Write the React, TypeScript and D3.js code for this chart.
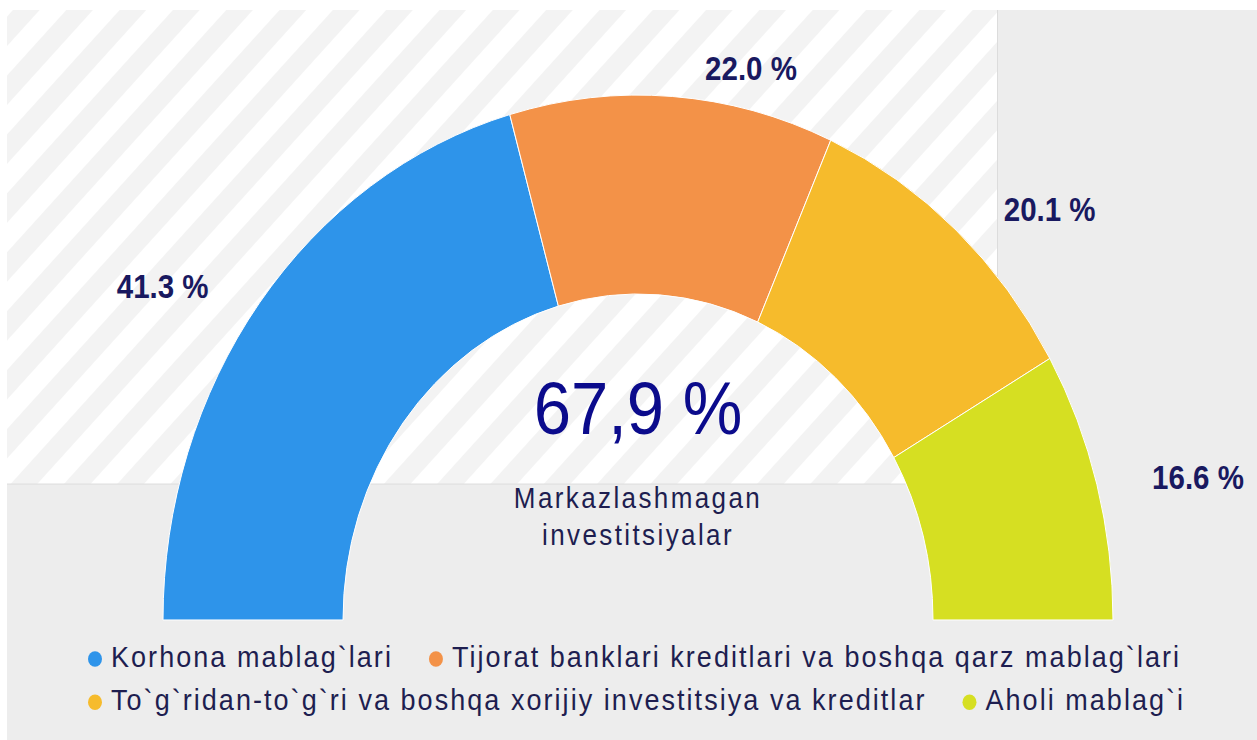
import React, { useEffect, useRef } from 'react';
import * as d3 from 'd3';

const categories = [
  "Korhona mablag`lari",
  "Tijorat banklari kreditlari va boshqa qarz mablag`lari",
  "To`g`ridan-to`g`ri va boshqa xorijiy investitsiya va kreditlar",
  "Aholi mablag`i",
];
const values = [41.3, 22.0, 20.1, 16.6];
const colors = ["#2e94ea", "#f39248", "#f6bb2c", "#d6df22"];
const totalLabel = "67,9 %";
const subtitleLines = ["Markazlashmagan", "investitsiyalar"];
const legendRows = [[0, 1], [2, 3]];

const W = 1257;
const H = 740;
const TOP = 10;
const SY = 1.105;
const FONT = "'Liberation Sans', Arial, sans-serif";

export default function App() {
  const ref = useRef<SVGSVGElement | null>(null);

  useEffect(() => {
    const svg = d3.select(ref.current);
    svg.selectAll('*').remove();

    const defs = svg.append('defs');
    const pat = defs.append('pattern')
      .attr('id', 'hatch')
      .attr('patternUnits', 'userSpaceOnUse')
      .attr('width', 37.7)
      .attr('height', 37.7)
      .attr('patternTransform', 'translate(13,0) rotate(45)');
    pat.append('rect').attr('width', 37.7).attr('height', 37.7).attr('fill', '#ffffff');
    pat.append('rect').attr('width', 18.85).attr('height', 37.7).attr('fill', '#f3f3f3');

    svg.append('rect').attr('width', W).attr('height', H).attr('fill', '#ffffff');

    const g = svg.append('g').attr('transform', `translate(0,${TOP}) scale(1,${SY})`);
    const innerH = (H - TOP) / SY;
    const plotRight = 997.5;
    const plotBottom = 429;

    g.append('rect').attr('x', 7).attr('y', 0).attr('width', W - 7).attr('height', innerH).attr('fill', '#ededed');
    g.append('rect').attr('x', 7).attr('y', 0).attr('width', plotRight - 7).attr('height', plotBottom).attr('fill', 'url(#hatch)');
    g.append('line').attr('x1', plotRight).attr('x2', plotRight).attr('y1', 0).attr('y2', plotBottom)
      .attr('stroke', '#dcdcdc').attr('stroke-width', 1).attr('vector-effect', 'non-scaling-stroke');
    g.append('line').attr('x1', 7).attr('x2', plotRight).attr('y1', plotBottom).attr('y2', plotBottom)
      .attr('stroke', '#dcdcdc').attr('stroke-width', 1).attr('vector-effect', 'non-scaling-stroke');

    const cx = 638, cy = 552, R = 475, r = 295;
    const pie = d3.pie<number>().sort(null).startAngle(-Math.PI / 2).endAngle(Math.PI / 2);
    const arcs = pie(values);
    const arc = d3.arc<d3.PieArcDatum<number>>().innerRadius(r).outerRadius(R);

    const donut = g.append('g').attr('transform', `translate(${cx},${cy})`);
    donut.selectAll('path').data(arcs).enter().append('path')
      .attr('d', arc as any)
      .attr('fill', (_d, i) => colors[i])
      .attr('stroke', '#ffffff')
      .attr('stroke-width', 1)
      .attr('vector-effect', 'non-scaling-stroke');

    const labR = 500, labOff = 31;
    donut.selectAll('text.lab').data(arcs).enter().append('text')
      .attr('class', 'lab')
      .each(function (d) {
        const a = (d.startAngle + d.endAngle) / 2;
        const s = Math.sin(a);
        const x = labR * s + (s >= 0 ? labOff : -labOff);
        const y = -labR * Math.cos(a);
        d3.select(this)
          .attr('x', x).attr('y', y)
          .attr('dy', '0.35em')
          .attr('text-anchor', s >= 0 ? 'start' : 'end');
      })
      .attr('font-family', FONT)
      .attr('font-weight', 'bold')
      .attr('font-size', 29.5)
      .attr('fill', '#191960')
      .text(d => `${d.data.toFixed(1)} %`);

    g.append('text')
      .attr('x', cx).attr('y', 383.7)
      .attr('text-anchor', 'middle')
      .attr('font-family', FONT)
      .attr('font-size', 67)
      .attr('fill', '#0b0b8c')
      .text(totalLabel);

    subtitleLines.forEach((t, i) => {
      g.append('text')
        .attr('x', cx).attr('y', 450.7 + i * 33.5)
        .attr('text-anchor', 'middle')
        .attr('font-family', FONT)
        .attr('font-size', 26)
        .attr('letter-spacing', 2.4)
        .attr('fill', '#1e1e50')
        .text(t);
    });

    const legend = g.append('g');
    const rowY = [594.3, 633.5];
    legendRows.forEach((row, ri) => {
      let x = 95;
      row.forEach(idx => {
        legend.append('circle')
          .attr('cx', x).attr('cy', rowY[ri] - 7)
          .attr('r', 7)
          .attr('fill', colors[idx]);
        const t = legend.append('text')
          .attr('x', x + 16).attr('y', rowY[ri])
          .attr('font-family', FONT)
          .attr('font-size', 27)
          .attr('letter-spacing', 2.05)
          .attr('fill', '#1e1e50')
          .text(categories[idx]);
        const w = (t.node() as SVGTextElement).getComputedTextLength();
        x = x + 16 + w + 43;
      });
    });
  }, []);

  return (
    <svg
      ref={ref}
      width={W}
      height={H}
      style={{ position: 'absolute', left: 0, top: 0, display: 'block' }}
    />
  );
}
